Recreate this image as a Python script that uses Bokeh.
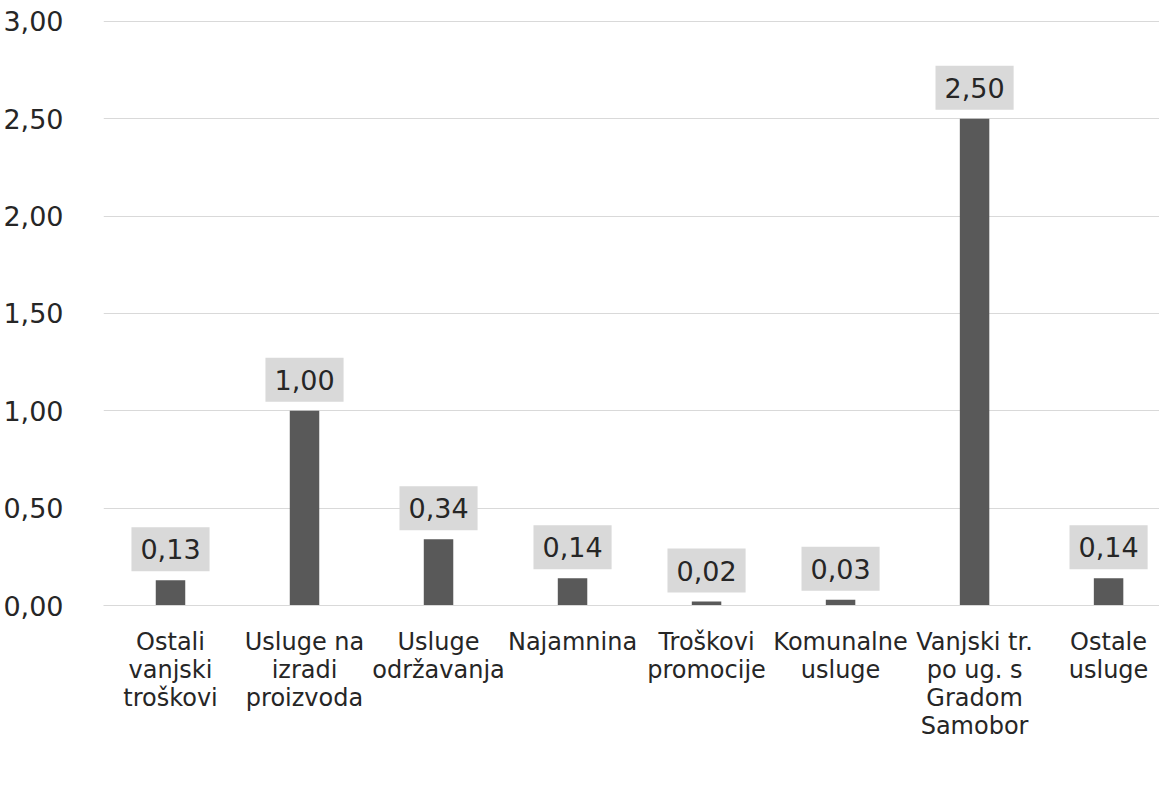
from bokeh.plotting import figure
from bokeh.models import (ColumnDataSource, Label, FixedTicker, CustomJSTickFormatter,
                          Range1d, Legend, LegendItem)
from bokeh.embed import file_html
from bokeh.resources import INLINE

categories = ["Ostali\nvanjski\ntroškovi", "Usluge na\nizradi\nproizvoda", "Usluge\nodržavanja",
              "Najamnina", "Troškovi\npromocije", "Komunalne\nusluge",
              "Vanjski tr.\npo ug. s\nGradom\nSamobor", "Ostale\nusluge"]
values = [0.13, 1.00, 0.34, 0.14, 0.02, 0.03, 2.50, 0.14]
series_name = "Trošak/Rashod poslovanja (Mil. €)"
y_ticks = [0.0, 0.5, 1.0, 1.5, 2.0, 2.5, 3.0]

FONT = "DejaVu Sans"
BAR = "#595959"
TXT = "#262626"

xs = list(range(1, len(categories) + 1))
lbls = [f"{v:.2f}".replace(".", ",") for v in values]
src = ColumnDataSource(dict(x=xs, top=values, lbl=lbls))

p = figure(frame_width=1056, frame_height=585, output_backend="svg", toolbar_location=None,
           x_range=Range1d(0.5, 8.38), y_range=Range1d(0, 3.005),
           min_border_left=95, min_border_top=20, min_border_right=0, min_border_bottom=0)
p.outline_line_color = None
p.background_fill_color = "white"

r = p.vbar(x="x", top="top", width=0.22, source=src, fill_color=BAR, line_color=None)

for x, v, t in zip(xs, values, lbls):
    p.add_layout(Label(x=x, y=v, text=t, text_align="center", text_baseline="bottom",
                       y_offset=9, text_font=FONT, text_font_size="27px",
                       text_color=TXT, background_fill_color="#d9d9d9",
                       background_fill_alpha=1.0, padding=(9, 12)))

p.yaxis.ticker = FixedTicker(ticks=y_ticks)
p.yaxis.formatter = CustomJSTickFormatter(code="return tick.toFixed(2).replace('.', ',');")
p.yaxis.axis_line_color = None
p.yaxis.major_tick_line_color = None
p.yaxis.minor_tick_line_color = None
p.yaxis.major_label_text_font = FONT
p.yaxis.major_label_text_font_size = "27px"
p.yaxis.major_label_text_color = TXT
p.yaxis.major_label_standoff = 34

p.xaxis.ticker = FixedTicker(ticks=xs)
p.xaxis.major_label_overrides = {i: c for i, c in zip(xs, categories)}
p.xaxis.axis_line_color = "#d9d9d9"
p.xaxis.major_tick_line_color = None
p.xaxis.minor_tick_line_color = None
p.xaxis.major_label_text_font = FONT
p.xaxis.major_label_text_font_size = "24px"
p.xaxis.major_label_text_line_height = 1.0
p.xaxis.major_label_text_color = TXT
p.xaxis.major_label_standoff = 16

p.xgrid.grid_line_color = None
p.ygrid.grid_line_color = "#d9d9d9"
p.ygrid.grid_line_width = 1

legend = Legend(items=[LegendItem(label=series_name, renderers=[r])], location=(283, 26),
                orientation="horizontal", border_line_color=None, background_fill_alpha=0,
                label_text_font=FONT, label_text_font_size="23px", label_text_color=TXT,
                glyph_width=11, glyph_height=11, label_standoff=3, padding=0, margin=0)
p.add_layout(legend, "below")

open("out.html", "w").write(file_html(p, INLINE))
